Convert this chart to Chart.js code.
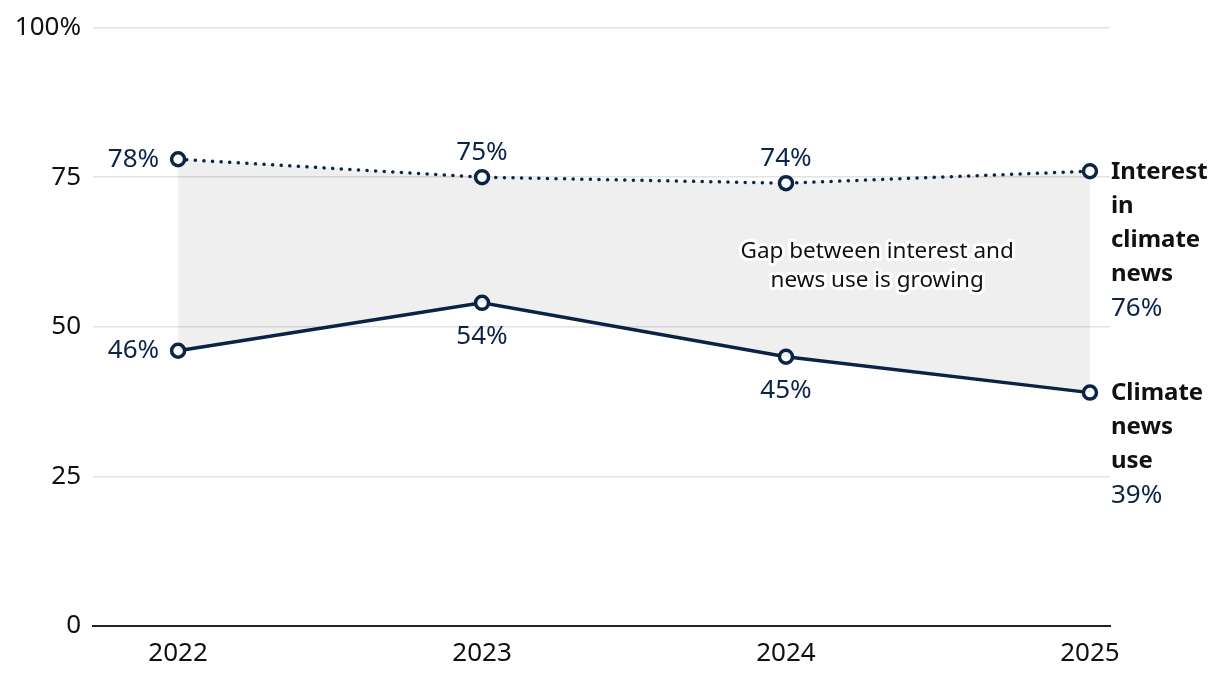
<!DOCTYPE html>
<html><head><meta charset="utf-8">
<script src="https://cdn.jsdelivr.net/npm/chart.js@4"></script>
<style>html,body{margin:0;padding:0;background:#fff}#wrap{width:1220px;height:682px}</style>
</head><body><div id="wrap"><canvas id="c"></canvas></div>
<script>
const years = [2022, 2023, 2024, 2025];
const interest = [78, 75, 74, 76];
const newsUse = [46, 54, 45, 39];
const yTicks = [0, 25, 50, 75, 100];
const interestLabel = ['Interest', 'in', 'climate', 'news'];
const newsUseLabel = ['Climate', 'news', 'use'];
const annotation = ['Gap between interest and', 'news use is growing'];
const annotationAt = {x: 2024.3, y: 62.5};

const NAVY = '#0b2547';
const FONT = '"Noto Sans", "DejaVu Sans", sans-serif';

const labelPlugin = {
  id: 'labels',
  afterDatasetsDraw(chart) {
    const ctx = chart.ctx;
    const xs = chart.scales.x, ys = chart.scales.y;
    ctx.save();
    ctx.font = '26px ' + FONT;
    ctx.fillStyle = NAVY;
    ctx.textBaseline = 'middle';
    interest.forEach((v, i) => {
      const px = xs.getPixelForValue(years[i]), py = ys.getPixelForValue(v);
      if (i === 0) { ctx.textAlign = 'right'; ctx.fillText(v + '%', px - 19, py); }
      else if (i < years.length - 1) { ctx.textAlign = 'center'; ctx.fillText(v + '%', px, py - 25); }
    });
    newsUse.forEach((v, i) => {
      const px = xs.getPixelForValue(years[i]), py = ys.getPixelForValue(v);
      if (i === 0) { ctx.textAlign = 'right'; ctx.fillText(v + '%', px - 19, py); }
      else if (i < years.length - 1) { ctx.textAlign = 'center'; ctx.fillText(v + '%', px, py + 34); }
    });
    const last = years.length - 1;
    const lx = xs.getPixelForValue(years[last]) + 21;
    const lh = 34;
    const drawBlock = (lines, val, py) => {
      ctx.textAlign = 'left';
      ctx.font = 'bold 24px ' + FONT;
      ctx.fillStyle = '#111';
      lines.forEach((t, k) => ctx.fillText(t, lx, py + k * lh));
      ctx.font = '26px ' + FONT;
      ctx.fillStyle = NAVY;
      ctx.fillText(val + '%', lx, py + lines.length * lh);
    };
    drawBlock(interestLabel, interest[last], ys.getPixelForValue(interest[last]) + 1);
    drawBlock(newsUseLabel, newsUse[last], ys.getPixelForValue(newsUse[last]) + 1);
    ctx.font = '22.5px ' + FONT;
    ctx.textAlign = 'center';
    ctx.lineJoin = 'round';
    const ax = xs.getPixelForValue(annotationAt.x), ay = ys.getPixelForValue(annotationAt.y);
    annotation.forEach((t, k) => {
      const yy = ay + k * 29;
      ctx.strokeStyle = '#fff'; ctx.lineWidth = 6;
      ctx.strokeText(t, ax, yy);
      ctx.fillStyle = '#111';
      ctx.fillText(t, ax, yy);
    });
    ctx.restore();
  }
};

new Chart(document.getElementById('c'), {
  type: 'line',
  data: {
    datasets: [
      {
        label: 'Interest in climate news',
        data: years.map((y, i) => ({x: y, y: interest[i]})),
        borderColor: NAVY, borderWidth: 3.5,
        borderDash: [0.1, 8.5], borderCapStyle: 'round',
        pointRadius: 6.5, pointBorderWidth: 3.5,
        pointBackgroundColor: '#fff', pointBorderColor: NAVY,
        fill: '+1', backgroundColor: 'rgba(0,0,0,0.062)',
        tension: 0
      },
      {
        label: 'Climate news use',
        data: years.map((y, i) => ({x: y, y: newsUse[i]})),
        borderColor: NAVY, borderWidth: 3.5,
        pointRadius: 6.5, pointBorderWidth: 3.5,
        pointBackgroundColor: '#fff', pointBorderColor: NAVY,
        fill: false, tension: 0
      }
    ]
  },
  options: {
    responsive: true, maintainAspectRatio: false, animation: false,
    layout: {padding: {top: 26, right: 110, bottom: 0, left: 0}},
    plugins: {legend: {display: false}, tooltip: {enabled: false}},
    scales: {
      x: {
        type: 'linear', min: 2021.72, max: 2025.066,
        afterBuildTicks: a => { a.ticks = years.map(v => ({value: v})); },
        afterFit: s => { s.height = 56; },
        grid: {display: false, drawTicks: false},
        border: {display: true, color: '#222', width: 2},
        ticks: {color: '#111', font: {family: FONT, size: 26}, padding: 12, callback: v => String(v)}
      },
      y: {
        min: 0, max: 100,
        afterBuildTicks: a => { a.ticks = yTicks.map(v => ({value: v})); },
        afterFit: s => { s.width = 93; },
        grid: {color: '#e2e2e2', lineWidth: 1.5, drawTicks: false},
        border: {display: false},
        ticks: {color: '#111', font: {family: FONT, size: 26}, padding: 12,
          callback: v => v === 100 ? '100%' : String(v)}
      }
    }
  },
  plugins: [labelPlugin]
});
</script></body></html>
